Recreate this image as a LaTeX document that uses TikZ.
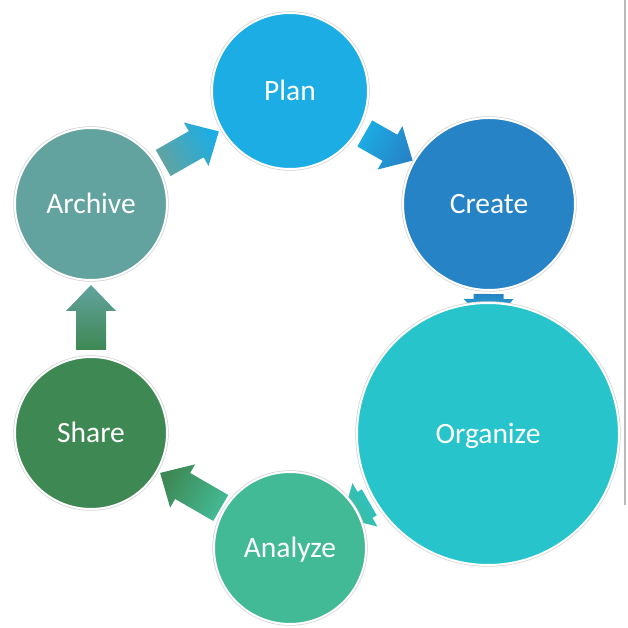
\documentclass[tikz,border=0pt]{standalone}
\usepackage{fontspec}
\setmainfont{Carlito}
\usetikzlibrary{calc}
\definecolor{planblue}{HTML}{1CADE4}
\definecolor{createblue}{HTML}{2683C6}
\definecolor{organizecyan}{HTML}{27C4CB}
\definecolor{analyzegreen}{HTML}{43BA96}
\definecolor{sharegreen}{HTML}{3E8853}
\definecolor{archiveteal}{HTML}{62A39F}
\pgfdeclarelayer{back}
\pgfsetlayers{back,main}
% block arrow: from, to, tail, tip (from the centre of the first), colours, shading angle
\newcommand{\cyclearrow}[7]{%
\begin{pgfonlayer}{back}
\coordinate (tail) at ($(#1.center)!#3!(#2.center)$);
\coordinate (tip) at ($(#1.center)!#4!(#2.center)$);
\coordinate (head) at ($(tip)!26pt!(tail)$);
\shade[top color=#6, bottom color=#5, shading angle=#7]
  ($(tail)!15pt!90:(tip)$) -- ($(head)!15pt!-90:(tail)$) -- ($(head)!25pt!-90:(tail)$) -- (tip)
  -- ($(head)!25pt!90:(tail)$) -- ($(head)!15pt!90:(tail)$) -- ($(tail)!15pt!-90:(tip)$) -- cycle;
\end{pgfonlayer}}

\begin{document}
\begin{tikzpicture}[x=1pt, y=1pt,
  phase/.style={circle, inner sep=0pt, fill=#1, draw=white, line width=2pt,
    preaction={draw=black!18, line width=3.4pt}, text=white,
    font=\fontsize{29.5}{35}\selectfont, text height=19pt, text depth=0pt}]
\useasboundingbox (0,0) rectangle (628,628);
% stages
\node[phase=planblue, minimum size=156pt] (plan) at (290,537) {Plan};
\node[phase=createblue, minimum size=172pt] (create) at (489,424) {Create};
\node[phase=organizecyan, minimum size=262pt] (organize) at (488,194) {Organize};
\node[phase=analyzegreen, minimum size=152pt] (analyze) at (290,80) {Analyze};
\node[phase=sharegreen, minimum size=152pt] (share) at (91,195) {Share};
\node[phase=archiveteal, minimum size=152pt] (archive) at (91,424) {Archive};
% arrows
\cyclearrow{archive}{plan}{83pt}{147pt}{archiveteal}{planblue}{-60.4}
\cyclearrow{plan}{create}{86pt}{141pt}{planblue}{createblue}{-119.6}
\cyclearrow{create}{organize}{90pt}{121pt}{createblue}{organizecyan}{-180}
\cyclearrow{organize}{analyze}{137pt}{168pt}{organizecyan}{analyzegreen}{120}
\cyclearrow{analyze}{share}{80pt}{150pt}{analyzegreen}{sharegreen}{60}
\cyclearrow{share}{archive}{83pt}{148pt}{sharegreen}{archiveteal}{0}
% frame edge
\draw[black!27, line width=1.3pt] (625,123) -- (625,628);
\end{tikzpicture}
\end{document}
